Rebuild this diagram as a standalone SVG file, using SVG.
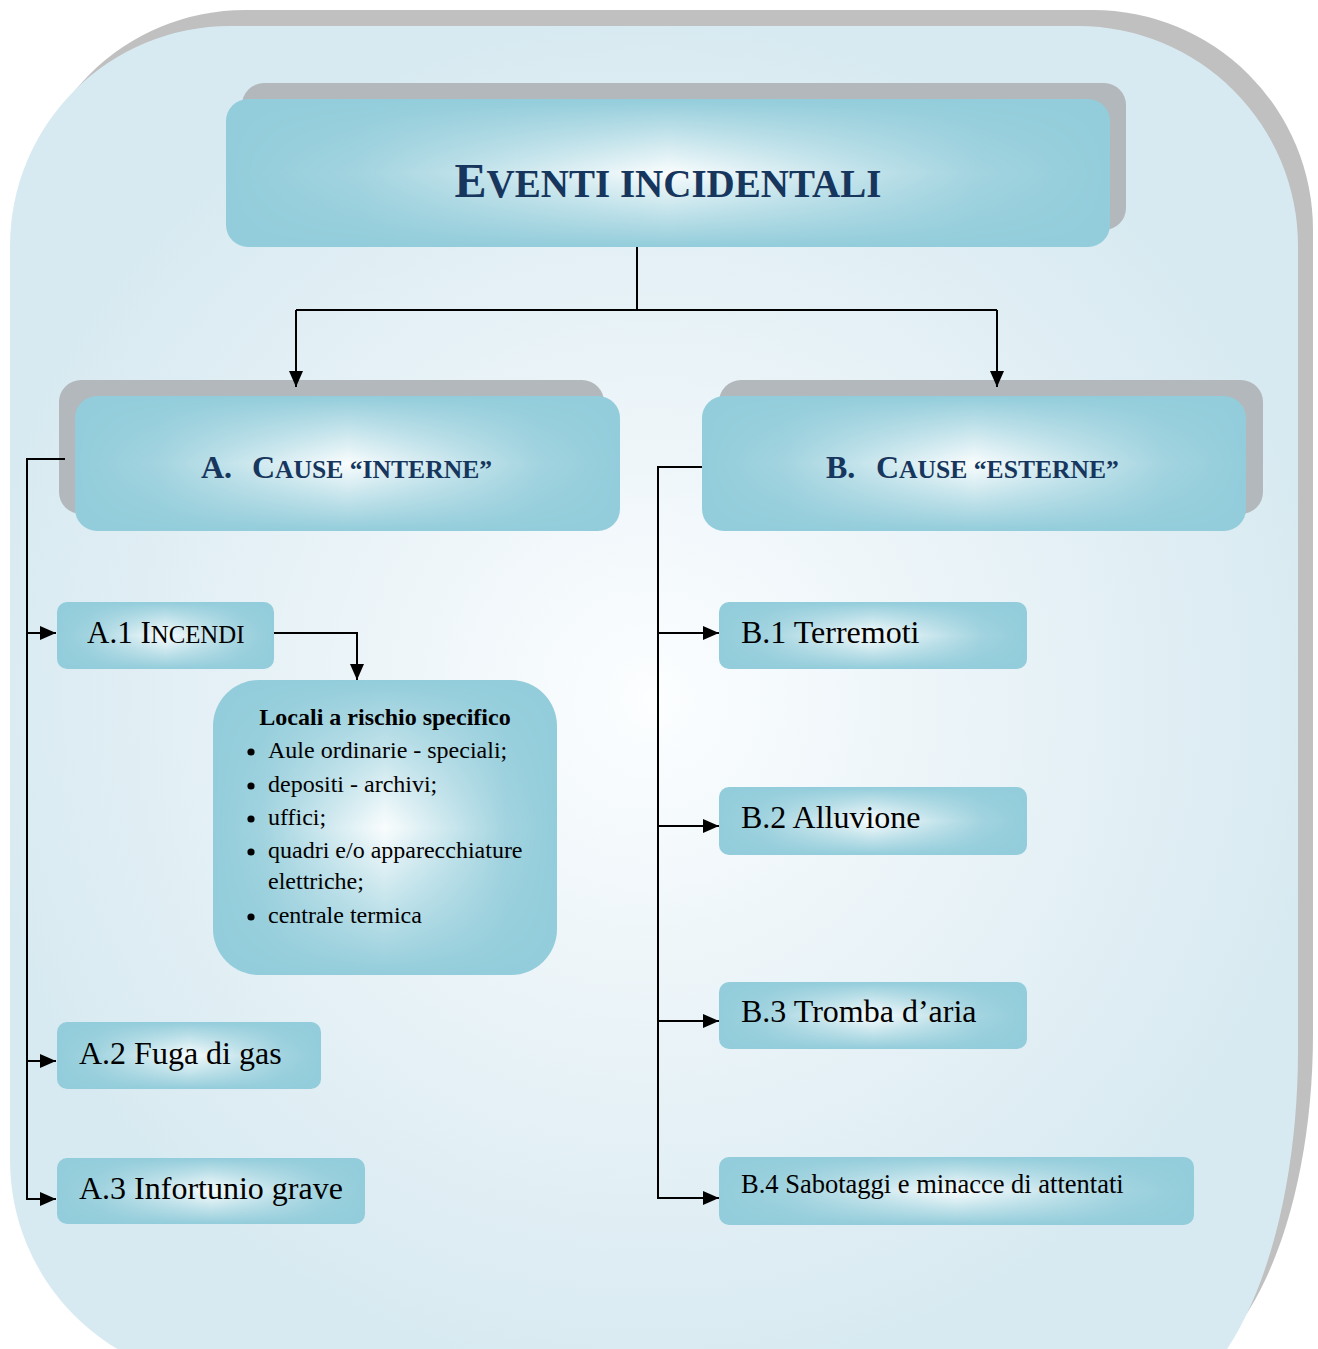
<svg xmlns="http://www.w3.org/2000/svg" width="1318" height="1349" viewBox="0 0 1318 1349">
<style>
.sh{fill:#b2b8bb}
.bx{fill:#93cddb}
.gl{fill:url(#gh);mask:url(#mv)}
.hd{font-family:"Liberation Serif","Times New Roman",serif;font-weight:bold;fill:#17365d}
.tx{font-family:"Liberation Serif","Times New Roman",serif;fill:#000}
.ln{fill:none;stroke:#000;stroke-width:2}
</style>
<defs>
<radialGradient id="bg" gradientUnits="userSpaceOnUse" cx="650" cy="700" r="680">
<stop offset="0" stop-color="#fcfeff"/>
<stop offset="0.4" stop-color="#edf5f9"/>
<stop offset="1" stop-color="#d8eaf1"/>
</radialGradient>
<linearGradient id="gh" x1="0" y1="0" x2="1" y2="0">
<stop offset="0" stop-color="#fff" stop-opacity="0"/>
<stop offset="0.15" stop-color="#fff" stop-opacity="0.15"/>
<stop offset="0.5" stop-color="#fff" stop-opacity="0.95"/>
<stop offset="0.85" stop-color="#fff" stop-opacity="0.15"/>
<stop offset="1" stop-color="#fff" stop-opacity="0"/>
</linearGradient>
<linearGradient id="gvm" x1="0" y1="0" x2="0" y2="1">
<stop offset="0" stop-color="#000"/>
<stop offset="0.2" stop-color="#666"/>
<stop offset="0.5" stop-color="#fff"/>
<stop offset="0.8" stop-color="#666"/>
<stop offset="1" stop-color="#000"/>
</linearGradient>
<mask id="mv" maskContentUnits="objectBoundingBox">
<rect width="1" height="1" fill="url(#gvm)"/>
</mask>
<marker id="ar" markerUnits="userSpaceOnUse" markerWidth="16" markerHeight="14" refX="16" refY="7" orient="auto">
<path d="M0,0 L16,7 L0,14 Z" fill="#000"/>
</marker>
</defs>

<g id="frame">
<path d="M245,10 H1093 A220 220 0 0 1 1313 230 V1034 A160 345 0 0 1 1153 1379 H245 L25 1144 V230 A220 220 0 0 1 245 10 Z" fill="#c0c0c0"/>
<path d="M230,26 H1078 A220 220 0 0 1 1298 246 V1050 A160 360 0 0 1 1138 1410 H230 L230 1380 A220 220 0 0 1 10 1160 V246 A220 220 0 0 1 230 26 Z" fill="url(#bg)"/>
</g>

<g id="title">
<rect class="sh" x="242" y="83" width="884" height="147" rx="22"/>
<rect class="bx" x="226" y="99" width="884" height="148" rx="22"/>
<rect class="gl" x="226" y="99" width="884" height="148" rx="22"/>
<text class="hd" x="668" y="197" text-anchor="middle"><tspan font-size="48">E</tspan><tspan font-size="39">VENTI INCIDENTALI</tspan></text>
</g>

<g id="nodeA">
<rect class="sh" x="59" y="380" width="545" height="134" rx="22"/>
<rect class="bx" x="75" y="396" width="545" height="135" rx="22"/>
<rect class="gl" x="75" y="396" width="545" height="135" rx="22"/>
<text class="hd" x="201" y="478" font-size="32">A.<tspan x="252">C</tspan><tspan font-size="25.6">AUSE “INTERNE”</tspan></text>
</g>

<g id="nodeB">
<rect class="sh" x="719" y="380" width="544" height="134" rx="22"/>
<rect class="bx" x="702" y="396" width="544" height="135" rx="22"/>
<rect class="gl" x="702" y="396" width="544" height="135" rx="22"/>
<text class="hd" x="826" y="478" font-size="32">B.<tspan x="876">C</tspan><tspan font-size="25.6">AUSE “ESTERNE”</tspan></text>
</g>

<g id="nodeA1">
<rect class="bx" x="57" y="602" width="217" height="67" rx="10"/>
<rect class="gl" x="57" y="602" width="217" height="67" rx="10"/>
<text class="tx" x="87" y="643" font-size="31">A.1 I<tspan font-size="24.8">NCENDI</tspan></text>
</g>

<g id="nodeLocali">
<rect class="bx" x="213" y="680" width="344" height="295" rx="46"/>
<rect class="gl" x="213" y="680" width="344" height="295" rx="46"/>
<text class="tx" x="385" y="725" font-size="24" font-weight="bold" text-anchor="middle">Locali a rischio specifico</text>
<g fill="#000">
<circle cx="251" cy="752" r="3.6"/>
<circle cx="251" cy="786" r="3.6"/>
<circle cx="251" cy="819" r="3.6"/>
<circle cx="251" cy="852" r="3.6"/>
<circle cx="251" cy="917" r="3.6"/>
</g>
<text class="tx" font-size="24">
<tspan x="268" y="758">Aule ordinarie - speciali;</tspan>
<tspan x="268" y="792">depositi - archivi;</tspan>
<tspan x="268" y="825">uffici;</tspan>
<tspan x="268" y="858">quadri e/o apparecchiature</tspan>
<tspan x="268" y="889">elettriche;</tspan>
<tspan x="268" y="923">centrale termica</tspan>
</text>
</g>

<g id="nodeA2">
<rect class="bx" x="57" y="1022" width="264" height="67" rx="10"/>
<rect class="gl" x="57" y="1022" width="264" height="67" rx="10"/>
<text class="tx" x="79" y="1064" font-size="32">A.2 Fuga di gas</text>
</g>

<g id="nodeA3">
<rect class="bx" x="57" y="1158" width="308" height="66" rx="10"/>
<rect class="gl" x="57" y="1158" width="308" height="66" rx="10"/>
<text class="tx" x="79" y="1199" font-size="32">A.3 Infortunio grave</text>
</g>

<g id="nodeB1">
<rect class="bx" x="719" y="602" width="308" height="67" rx="10"/>
<rect class="gl" x="719" y="602" width="308" height="67" rx="10"/>
<text class="tx" x="741" y="643" font-size="32">B.1 Terremoti</text>
</g>

<g id="nodeB2">
<rect class="bx" x="719" y="787" width="308" height="68" rx="10"/>
<rect class="gl" x="719" y="787" width="308" height="68" rx="10"/>
<text class="tx" x="741" y="828" font-size="32">B.2 Alluvione</text>
</g>

<g id="nodeB3">
<rect class="bx" x="719" y="982" width="308" height="67" rx="10"/>
<rect class="gl" x="719" y="982" width="308" height="67" rx="10"/>
<text class="tx" x="741" y="1022" font-size="32">B.3 Tromba d’aria</text>
</g>

<g id="nodeB4">
<rect class="bx" x="719" y="1157" width="475" height="68" rx="10"/>
<rect class="gl" x="719" y="1157" width="475" height="68" rx="10"/>
<text class="tx" x="741" y="1193" font-size="26.5">B.4 Sabotaggi e minacce di attentati</text>
</g>

<g id="connectors">
<path class="ln" d="M637,247 V310"/>
<path class="ln" d="M296,310 H997"/>
<path class="ln" d="M296,310 V387" marker-end="url(#ar)"/>
<path class="ln" d="M997,310 V387" marker-end="url(#ar)"/>
<path class="ln" d="M65,459 H27 V1199 H56" marker-end="url(#ar)"/>
<path class="ln" d="M27,633 H56" marker-end="url(#ar)"/>
<path class="ln" d="M27,1061 H56" marker-end="url(#ar)"/>
<path class="ln" d="M274,633 H357 V680" marker-end="url(#ar)"/>
<path class="ln" d="M702,467 H658 V1198 H719" marker-end="url(#ar)"/>
<path class="ln" d="M658,633 H719" marker-end="url(#ar)"/>
<path class="ln" d="M658,826 H719" marker-end="url(#ar)"/>
<path class="ln" d="M658,1021 H719" marker-end="url(#ar)"/>
</g>
</svg>
